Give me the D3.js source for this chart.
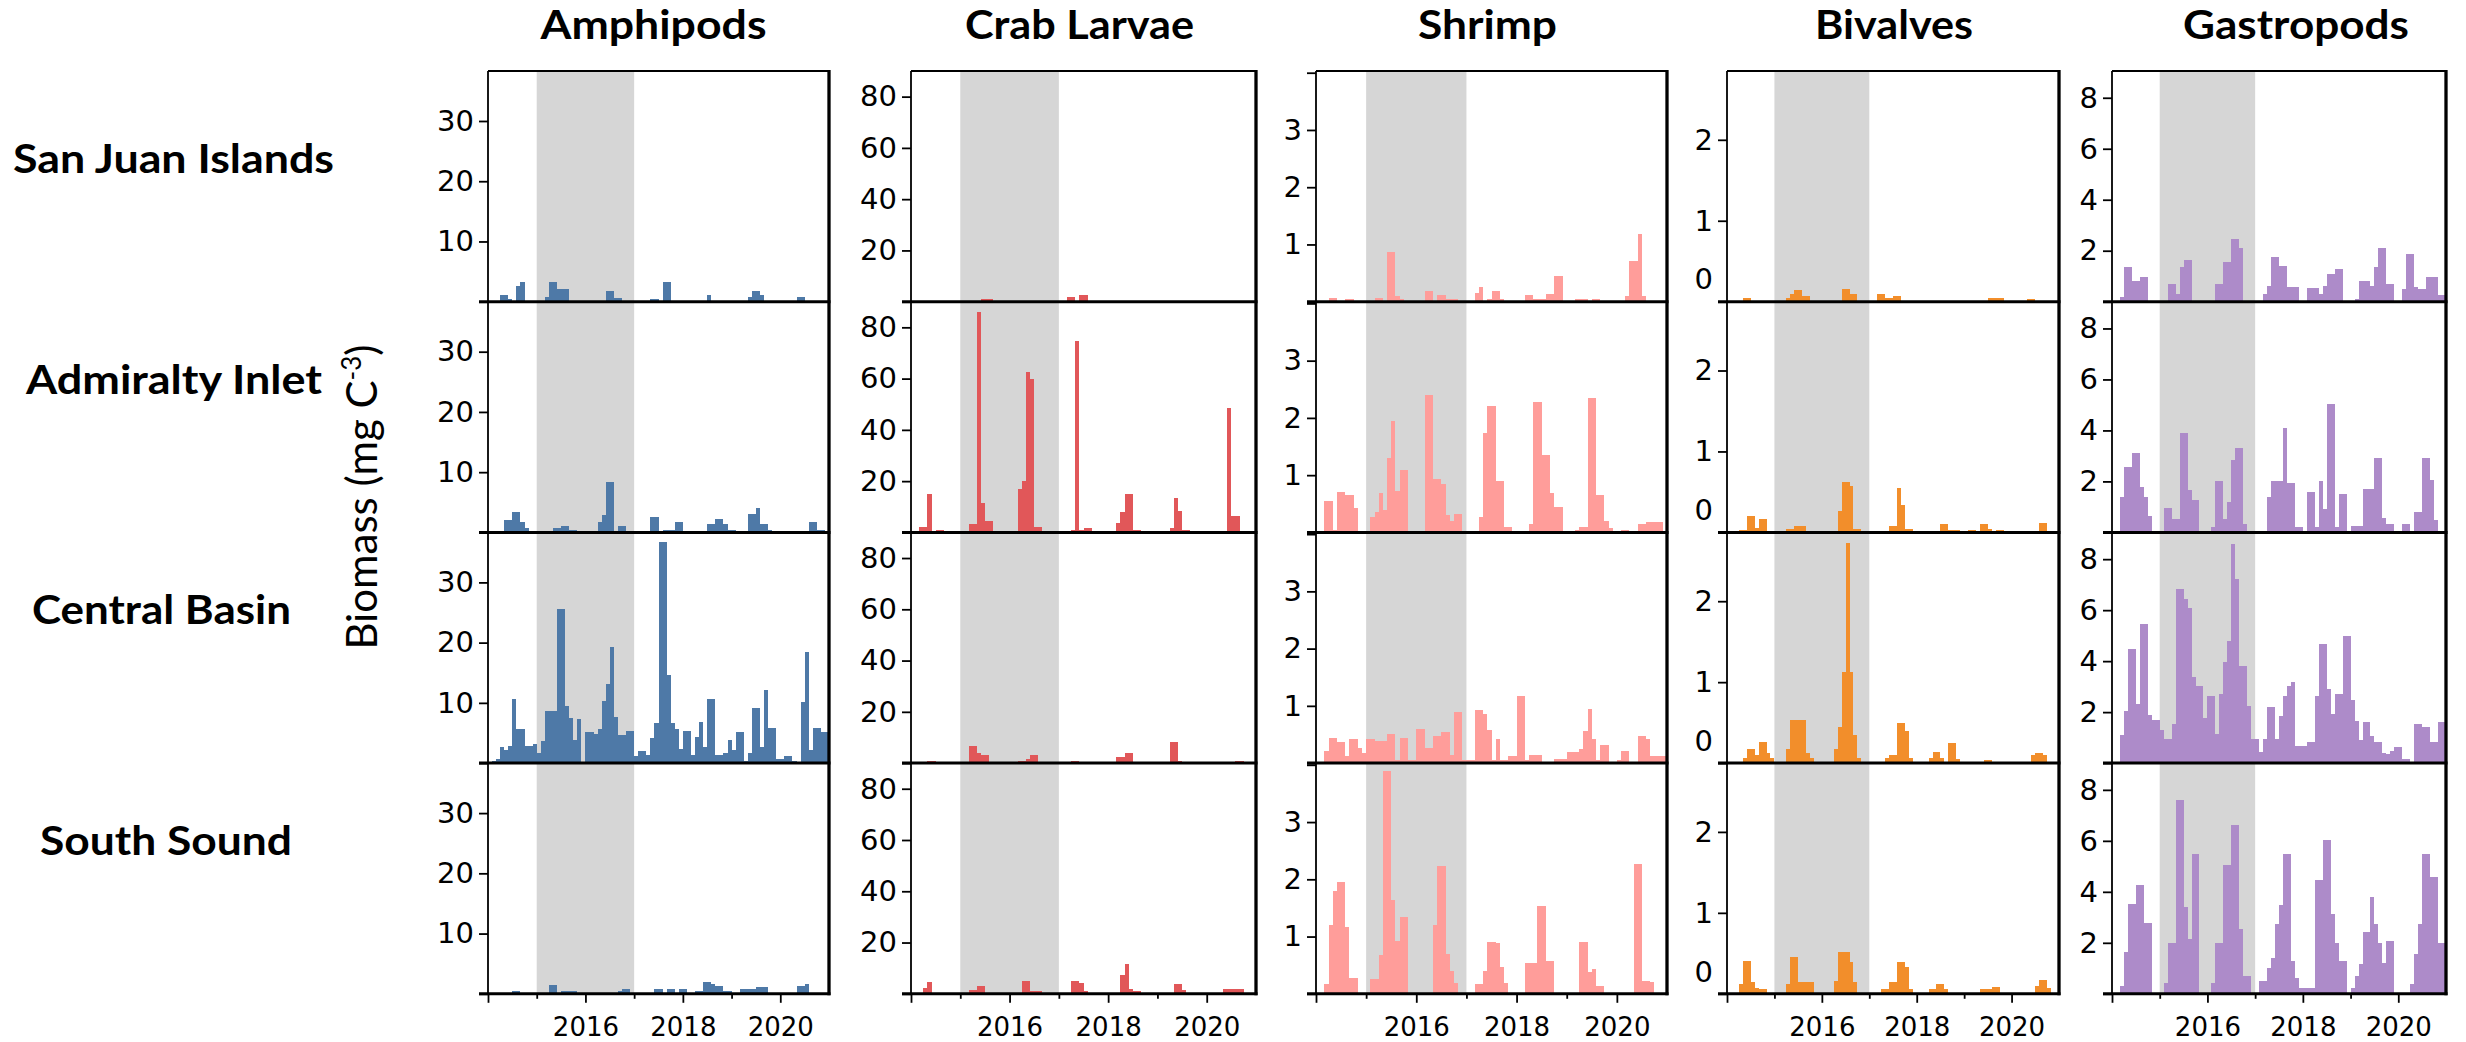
<!DOCTYPE html>
<html><head><meta charset="utf-8">
<script src="https://cdn.jsdelivr.net/npm/d3@7"></script>
<style>html,body{margin:0;padding:0;background:#fff;}svg{display:block;}</style>
</head><body>
<script>
// ---------------- DATA ----------------
const groups = ["Amphipods","Crab Larvae","Shrimp","Bivalves","Gastropods"];
const regions = ["San Juan Islands","Admiralty Inlet","Central Basin","South Sound"];
const startYear = 2014, endYear = 2021;
const heatwave = [2015, 2017];
const xMajorTicks = [2014, 2016, 2018, 2020];
const xMajorLabels = ["", "2016", "2018", "2020"];
const xMinorTicks = [2015, 2017, 2019];
const yMax = [38.3, 90, 4.03, 2.85, 9.05];
const yTicks = [[0,10,20,30],[0,20,40,60,80],[0,1,2,3,4],[0,1,2],[0,2,4,6,8]];
const yTickLabels = [["","10","20","30"],["","20","40","60","80"],["","1","2","3",""],["0","1","2"],["","2","4","6","8"]];
const colors = ["#4e79a7","#e15759","#ff9d9a","#f28e2b","#ad8bc9"];

// monthly biomass, Jan 2014 .. Dec 2020 (84 values each)
const amphSJ = [0,0,0,1.1,1.1,0.5,0,2.6,3.2,0,0,0,
 0,0,0.8,3.2,3.2,2.1,2.1,2.1,0,0,0,0,
 0,0,0,0,0,1.7,1.7,0.6,0.6,0,0,0,
 0,0,0,0,0.5,0.5,0,3.2,3.2,0,0,0,
 0,0,0,0,0,0,1.1,0,0,0,0,0,
 0,0,0,0,0.8,1.7,1.7,1.1,0,0,0,0,
 0,0,0,0,0.8,0.8,0,0,0,0,0,0];
const amphAI = [0,0,0,0,2.0,2.0,3.4,3.4,1.7,0.7,0,0,
 0,0,0,0,0.7,0.7,1.0,1.0,0.4,0.4,0,0,
 0,0,0,1.7,2.9,8.3,8.3,0,1.0,1.0,0,0,
 0,0,0,0,2.5,2.5,0,0.4,0.4,0.4,1.7,1.7,
 0,0,0,0,0,0,1.4,1.4,2.2,2.2,1.4,0.4,
 0.4,0,0,0,3.1,3.1,4.0,1.4,1.4,0.4,0,0,
 0,0,0,0,0,0,0,1.7,1.7,0.4,0.4,0];
const amphCB = [0,0.4,0.6,2.7,2.1,2.9,10.7,5.6,5.6,2.9,2.9,3.2,
 1.7,3.6,8.6,8.6,8.6,25.6,25.6,9.5,7.5,3.9,7.4,0,
 5.1,5.1,4.8,5.6,10.3,13.1,19.3,7.7,4.7,4.7,5.3,5.3,
 1.1,2.0,2.0,1.4,4.1,6.6,36.7,36.7,14.6,6.7,5.7,2.4,
 5.3,5.3,1.4,4.3,6.8,2.7,10.7,10.7,1.4,1.4,1.7,3.9,
 2.1,5.1,5.1,0.4,1.7,9.2,9.2,2.7,12.1,5.9,5.9,0.6,
 0.6,1.1,1.1,0.3,0,10.2,18.4,2.1,5.9,5.9,5.1,5.1];
const amphSS = [0,0,0,0,0,0,0.4,0.4,0,0,0,0,
 0,0,0,1.4,1.4,0,0.45,0.45,0.4,0.4,0,0,
 0,0,0,0,0,0,0,0,0.45,0.8,0.8,0,
 0,0,0,0,0,0.8,0.8,0,0.8,0.8,0,0.8,
 0.8,0,0,0.4,0.4,2.0,2.0,1.7,1.3,1.3,0.45,0.45,
 0,0,0.8,0.8,0.8,0.8,1.1,1.1,1.1,0,0,0,
 0,0,0,0,1.3,1.3,1.6,0,0,0,0,0];

const crabSJ = [0,0,0,0,0,0,0,0,0,0,0,0,
 0,0,0,0,0,1.2,1.2,1.2,0,0,0,0,
 0,0,0,0,0,0,0,0,0,0,0,0,
 0,0,1.9,1.9,0,2.7,2.7,0,0,0,0,0,
 0,0,0,0,0,0,0,0,0,0,0,0,
 0,0,0,0,0,0,0,0,0,0,0,0,
 0,0,0,0,0,0,0,0,0,0,0,0];
const crabAI = [0,0,2.2,2.2,14.9,0,0.9,0.9,0,0,0,0,
 0,0,3.1,3.1,85.9,11.4,4.4,4.4,0,0,0,0,
 0,0,16.9,19.9,62.7,59.7,2.2,2.2,0,0,0,0,
 0,0,0,0.9,74.5,1.0,1.6,1.6,0,0,0,0,
 0,0,3.8,7.8,14.9,14.9,0.9,0.9,0,0,0,0,
 0,0,0,1.6,13.3,8.5,0.9,0.9,0,0,0,0,
 0,0,0,0,0,48.6,6.4,6.4,0,0,0,0];
const crabCB = [0,0,0,0,0.9,0.9,0,0,0,0,0,0,
 0,0,6.5,6.5,3.9,3.0,3.0,0,0,0,0,0,
 0,0,0.9,0.9,1.5,3.0,3.0,0,0,0,0,0,
 0,0,0,0.9,0.9,0,0,0,0,0,0,0,
 0,0,2.3,2.3,3.9,3.9,0,0,0,0,0,0,
 0,0,0,8.1,8.1,0.9,0,0,0,0,0,0,
 0,0,0,0,0,0,0,0.9,0.9,0,0,0];
const crabSS = [0,0,0,2.1,4.5,0,0,0,0,0,0,0,
 0,0,1.6,1.6,3.0,3.0,0,0,0,0,0,0,
 0,0,0,5.1,5.1,1.0,1.0,1.0,0,0,0,0,
 0,0,0,5.1,5.1,4.3,1.0,0,0,0,0,0,
 0,0,0,7.2,11.5,1.7,1.0,1.0,0,0,0,0,
 0,0,0,0,3.7,3.7,1.4,0,0,0,0,0,
 0,0,0,0,1.7,1.7,1.7,1.7,1.7,0,0,0];

const shrSJ = [0,0,0,0.06,0.06,0,0,0.04,0.04,0,0,0,
 0,0,0.06,0.06,0,0.86,0.86,0.1,0.04,0,0,0,
 0,0,0.19,0.19,0,0.12,0.12,0.04,0.04,0.04,0,0,
 0,0,0.15,0.26,0,0.04,0.19,0.19,0.04,0,0,0,
 0,0,0.12,0.12,0.04,0.04,0.04,0.13,0.13,0.45,0.45,0,
 0,0,0.04,0.04,0.04,0,0.04,0.04,0,0,0,0,
 0,0,0.1,0.71,0.71,1.18,0.1,0,0,0,0,0];
const shrAI = [0,0,0.55,0.55,0.04,0.7,0.7,0.65,0.65,0.42,0,0,
 0,0.27,0.35,0.68,0.39,1.3,1.95,0.72,1.09,1.09,0,0,
 0,0,2.4,2.4,0.93,0.93,0.85,0.3,0.2,0.33,0.33,0,
 0,0,0,0.27,1.73,2.2,2.2,0.9,0.9,0.1,0.1,0,
 0,0,0,0.15,2.28,2.28,1.36,1.36,0.69,0.45,0.45,0,
 0,0,0.04,0.1,0.1,2.35,2.35,0.66,0.66,0.2,0.07,0,
 0,0.04,0.04,0,0,0.15,0.15,0.19,0.19,0.19,0.19,0];
const shrCB = [0,0,0.21,0.44,0.44,0.36,0.36,0.12,0.42,0.42,0.26,0.18,
 0.42,0.42,0.38,0.38,0.38,0.5,0.5,0.06,0.44,0.44,0.06,0.06,
 0.6,0.6,0.26,0.26,0.48,0.48,0.54,0.54,0.15,0.9,0.9,0.06,
 0.06,0.06,0.92,0.92,0.86,0.57,0.06,0.42,0.06,0.06,0.12,0.12,
 1.18,1.18,0.06,0.14,0.14,0.14,0,0,0,0.08,0.08,0.08,
 0.2,0.2,0.2,0.25,0.56,0.95,0.42,0.06,0.32,0.32,0,0,
 0.06,0.21,0.21,0,0,0.48,0.48,0.42,0.12,0.12,0.12,0.12];
const shrSS = [0,0,0.17,1.2,1.8,1.96,1.96,1.17,0.28,0.28,0,0,
 0,0.26,0.26,0.67,3.89,3.89,1.64,0.93,1.35,1.35,0,0,
 0,0,0,0,1.2,2.24,2.24,0.7,0.4,0.19,0,0,
 0,0,0.17,0.17,0.4,0.9,0.9,0.88,0.46,0.19,0,0,
 0,0,0.54,0.54,0.54,1.53,1.53,0.58,0.58,0,0,0,
 0,0,0,0.9,0.9,0.38,0.44,0.14,0.14,0,0,0,
 0,0,0,0,2.27,2.27,0.22,0.22,0.2,0,0,0];

const bivSJ = [0,0,0,0,0.04,0.04,0,0,0,0,0,0,
 0,0,0,0.05,0.1,0.14,0.14,0.07,0.07,0,0,0,
 0,0,0,0,0,0.16,0.16,0.09,0.09,0,0,0,
 0,0,0.09,0.09,0.04,0.04,0.07,0.07,0,0,0,0,
 0,0,0,0,0,0,0,0,0,0,0,0,
 0,0,0,0,0,0,0.04,0.04,0.04,0.04,0,0,
 0,0,0,0,0.03,0.03,0,0,0,0,0,0];
const bivAI = [0,0,0,0.03,0.03,0.2,0.2,0.06,0.16,0.16,0,0,
 0,0,0,0.04,0.04,0.08,0.08,0.08,0,0,0,0,
 0,0,0,0,0.26,0.62,0.62,0.57,0.04,0.04,0,0,
 0,0,0,0,0,0.08,0.08,0.55,0.34,0.04,0.04,0,
 0,0,0,0,0,0,0.1,0.1,0.03,0.03,0.03,0,
 0,0.03,0.03,0,0.1,0.1,0.04,0,0.03,0.03,0,0,
 0,0,0,0,0,0,0,0.12,0.12,0,0,0];
const bivCB = [0,0,0,0,0.06,0.17,0.17,0.1,0.26,0.26,0.12,0.06,
 0,0,0,0.18,0.53,0.53,0.53,0.53,0.12,0.06,0,0,
 0,0,0,0.18,0.45,1.13,2.72,1.13,0.35,0.06,0,0,
 0,0,0,0,0.06,0.1,0.1,0.49,0.49,0.4,0.06,0,
 0,0,0,0.06,0.14,0.14,0.06,0,0.25,0.25,0.05,0,
 0,0,0,0,0,0.04,0.04,0,0,0,0,0,
 0,0,0,0,0,0.1,0.12,0.12,0.1,0,0,0];
const bivSS = [0,0,0,0.12,0.41,0.41,0.14,0.07,0.06,0.06,0,0,
 0,0,0,0.12,0.45,0.45,0.14,0.14,0.14,0.14,0,0,
 0,0,0,0.16,0.52,0.52,0.52,0.39,0.14,0,0,0,
 0,0,0,0.06,0.06,0.14,0.14,0.39,0.39,0.33,0.06,0,
 0,0,0,0.06,0.06,0.12,0.12,0.06,0,0,0,0,
 0,0,0,0,0.06,0.06,0.06,0.08,0.08,0,0,0,
 0,0,0,0,0,0,0.1,0.17,0.17,0.07,0,0];

const gasSJ = [0,0,0.2,1.36,1.36,0.8,0.8,0.97,0.97,0,0,0,
 0,0,0.7,0.7,0.3,1.36,1.63,1.63,0,0,0,0,
 0,0,0.7,0.7,1.55,1.55,2.47,2.47,2.1,0,0,0,
 0,0,0.3,0.63,1.76,1.76,1.42,1.42,0.58,0.58,0.58,0,
 0,0.52,0.52,0.52,0.3,0.63,1.1,1.1,1.3,1.3,0,0,
 0,0.1,0.8,0.8,0.8,0.63,1.36,2.1,2.1,0.7,0.7,0,
 0,0.5,1.89,1.89,0.58,0.5,0.5,0.97,0.97,0.97,0.26,0.26];
const gasAI = [0,0,1.4,2.58,2.58,3.1,3.1,1.8,1.4,0.66,0,0,
 0,0.95,0.95,0.53,0.53,3.9,3.9,1.66,1.26,1.26,0,0,
 0,0.2,2.0,2.0,0.53,1.2,2.84,3.3,3.3,0.34,0,0,
 0,0,0,1.4,2.0,2.0,2.0,4.08,1.92,1.92,0.2,0.2,
 0,1.6,1.6,0.2,2.0,0.92,5.03,5.03,0.2,1.5,1.5,0,
 0.26,0.26,0.26,1.7,1.7,1.7,2.9,2.9,0.58,0.34,0.34,0,
 0,0.34,0.34,0,0.79,0.79,2.9,2.9,2.05,0.47,0,0];
const gasCB = [0,0,1.1,2.04,4.48,4.48,2.3,5.47,5.47,1.9,1.68,1.68,
 1.28,0.94,0.94,1.52,6.83,6.83,6.44,6.1,3.38,3.04,3.04,1.78,
 2.64,2.64,1.15,2.7,3.95,4.8,8.6,7.23,3.82,3.82,2.25,0.94,
 0.94,0.42,0.94,2.2,2.2,0.94,1.86,2.64,3.04,3.17,0.68,0.68,
 0.68,0.81,0.81,2.64,4.66,4.66,2.9,1.91,2.72,2.72,5.0,5.0,
 2.46,1.65,0.89,1.6,1.6,1.07,0.81,0.81,0.4,0.34,0.47,0.63,
 0.63,0.16,0.16,0,1.52,1.52,1.41,1.41,0.81,0.81,1.6,1.6];
const gasSS = [0,0,0.29,1.63,3.53,3.53,4.26,4.26,2.79,2.79,0,0,
 0,0.42,2.0,2.0,7.6,7.6,3.4,2.16,5.5,5.5,0,0,
 0,0.42,2.0,2.0,5.05,5.05,6.63,6.63,2.53,0.68,0.68,0,
 0,0.5,0.5,1.03,1.42,2.74,3.47,5.5,5.5,1.29,0.63,0.24,
 0.24,0.24,0.24,4.45,4.45,6.03,6.03,3.13,2.0,1.29,1.29,0,
 0.24,0.68,1.16,2.42,2.42,3.79,2.74,2.0,1.21,2.08,2.08,0,
 0,0,0,0.37,1.55,2.74,5.5,5.5,4.58,4.58,2.0,2.0];

const series = [
  [amphSJ, amphAI, amphCB, amphSS],
  [crabSJ, crabAI, crabCB, crabSS],
  [shrSJ, shrAI, shrCB, shrSS],
  [bivSJ, bivAI, bivCB, bivSS],
  [gasSJ, gasAI, gasCB, gasSS]
];

// ---------------- LAYOUT ----------------
const W = 2466, H = 1042;
const colLeft = [488, 911, 1316, 1727, 2112];
const colRight = [829, 1256, 1667, 2059, 2446];
const top0 = 71, rowH = 230.7;
const titleDx = [-5, -4, -4, 1, 17];
const titleW = [226, 229, 139, 158, 226];
const rowLabelX = [13, 26, 32, 40];
const rowLabelY = [173, 394, 624, 855];
const rowLabelW = [321, 296, 259, 252];

const svg = d3.select("body").append("svg").attr("width", W).attr("height", H);

groups.forEach((g, c) => {
  const x = d3.scaleLinear().domain([startYear, endYear]).range([colLeft[c], colRight[c]]);
  const bottomAll = top0 + 4 * rowH;

  // heatwave band
  svg.append("rect")
    .attr("x", x(heatwave[0])).attr("y", top0)
    .attr("width", x(heatwave[1]) - x(heatwave[0]))
    .attr("height", bottomAll - top0)
    .attr("fill", "#d6d6d6");

  regions.forEach((r, ri) => {
    const yTop = top0 + ri * rowH, yBot = yTop + rowH;
    const y = d3.scaleLinear().domain([0, yMax[c]]).range([yBot, yTop]);
    const vals = series[c][ri].map((v, i) => ({v, i})).filter(d => d.v > 0);

    svg.append("g").selectAll("rect").data(vals).join("rect")
      .attr("x", d => x(startYear + d.i / 12))
      .attr("width", d => x(startYear + (d.i + 1) / 12) - x(startYear + d.i / 12))
      .attr("y", d => y(d.v))
      .attr("height", d => y(0) - y(d.v))
      .attr("fill", colors[c])
      .attr("shape-rendering", "crispEdges");

    const ax = svg.append("g")
      .attr("transform", `translate(${colLeft[c]},0)`)
      .call(d3.axisLeft(y).tickValues(yTicks[c]).tickSize(9).tickPadding(5)
        .tickFormat((d, i) => yTickLabels[c][i]));
    ax.select(".domain").remove();
    ax.selectAll(".tick line").attr("stroke", "#000").attr("stroke-width", 1.8);
    ax.selectAll(".tick text")
      .attr("fill", "#000")
      .style("font-family", "'DejaVu Sans', Verdana, sans-serif")
      .style("font-size", "29px");
    if (c === 3) {
      ax.selectAll(".tick text").filter(d => d === 0).attr("y", -22);
    }

    // bottom (zero) line
    svg.append("line")
      .attr("x1", colLeft[c] - 9).attr("x2", colRight[c] + 1.5)
      .attr("y1", yBot).attr("y2", yBot)
      .attr("stroke", "#000").attr("stroke-width", 3);
  });

  // frame
  svg.append("line").attr("x1", colLeft[c]).attr("x2", colRight[c])
    .attr("y1", top0).attr("y2", top0).attr("stroke", "#000").attr("stroke-width", 1.8);
  svg.append("line").attr("x1", colLeft[c]).attr("x2", colLeft[c])
    .attr("y1", top0).attr("y2", bottomAll).attr("stroke", "#000").attr("stroke-width", 1.8);
  svg.append("line").attr("x1", colRight[c]).attr("x2", colRight[c])
    .attr("y1", top0 - 0.9).attr("y2", bottomAll + 1.5).attr("stroke", "#000").attr("stroke-width", 3.3);

  // x axis (bottom row only)
  const xa = svg.append("g").attr("transform", `translate(0,${bottomAll})`)
    .call(d3.axisBottom(x).tickValues(xMajorTicks).tickSize(9).tickPadding(15)
      .tickFormat((d, i) => xMajorLabels[i]));
  xa.select(".domain").remove();
  xa.selectAll(".tick line").attr("stroke", "#000").attr("stroke-width", 1.8);
  xa.selectAll(".tick text").attr("fill", "#000")
    .style("font-family", "'DejaVu Sans', Verdana, sans-serif").style("font-size", "26px");
  const xm = svg.append("g").attr("transform", `translate(0,${bottomAll})`)
    .call(d3.axisBottom(x).tickValues(xMinorTicks).tickSize(5).tickFormat(""));
  xm.select(".domain").remove();
  xm.selectAll(".tick line").attr("stroke", "#000").attr("stroke-width", 1.8);

  // column title
  svg.append("text")
    .attr("x", (colLeft[c] + colRight[c]) / 2 + titleDx[c]).attr("y", 39)
    .attr("text-anchor", "middle")
    .attr("textLength", titleW[c]).attr("lengthAdjust", "spacingAndGlyphs")
    .style("font-family", "Lato, 'Open Sans', sans-serif").style("font-weight", "bold")
    .style("font-size", "40px").attr("fill", "#000")
    .text(g);
});

// row labels
regions.forEach((r, ri) => {
  svg.append("text")
    .attr("x", rowLabelX[ri]).attr("y", rowLabelY[ri])
    .attr("textLength", rowLabelW[ri]).attr("lengthAdjust", "spacingAndGlyphs")
    .style("font-family", "Lato, 'Open Sans', sans-serif").style("font-weight", "bold")
    .style("font-size", "40px").attr("fill", "#000")
    .text(r);
});

// y axis title
const yt = svg.append("text")
  .attr("transform", "translate(377,497) rotate(-90)")
  .attr("text-anchor", "middle")
  .style("font-family", "Lato, 'Open Sans', sans-serif")
  .style("font-size", "42px").attr("fill", "#000");
yt.append("tspan").text("Biomass (mg C");
yt.append("tspan").attr("dy", -16).style("font-size", "26px").text("-3");
yt.append("tspan").attr("dy", 16).text(")");
</script>
</body></html>
